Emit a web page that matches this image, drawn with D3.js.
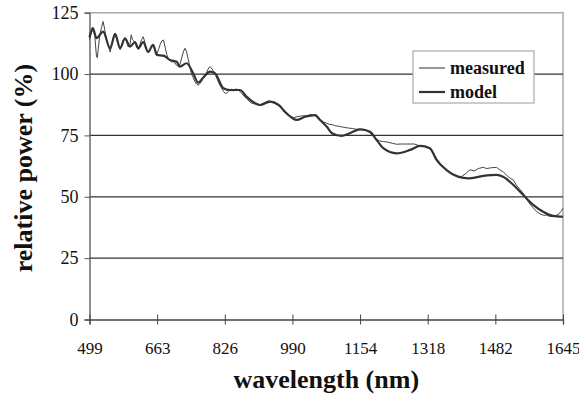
<!DOCTYPE html>
<html>
<head>
<meta charset="utf-8">
<script src="https://cdn.jsdelivr.net/npm/d3@7"></script>
<style>
  body { margin: 0; background: #fff; }
  text { font-family: "Liberation Serif", "Times New Roman", serif; fill: #111; }
</style>
</head>
<body>
<svg id="chart" width="579" height="394"></svg>
<script>
// tick labels as printed on the chart (axis runs 499..1645 in 7 steps)
var xTickLabels = ["499", "663", "826", "990", "1154", "1318", "1482", "1645"];
var yTicks = [0, 25, 50, 75, 100, 125];

// model curve (wavelength nm, relative power %)
var modelWl = [499, 507, 516, 532, 549, 561, 573, 585, 597, 609, 617, 629, 641, 653, 662, 678, 694, 710, 718, 734,
  750, 762, 774, 791, 803, 823, 839, 863, 879, 900, 912, 936, 956, 976, 1000, 1021, 1045, 1057, 1073, 1086,
  1109, 1129, 1154, 1178, 1194, 1210, 1242, 1275, 1299, 1323, 1339, 1363, 1391, 1416, 1452, 1484, 1500, 1525,
  1549, 1573, 1597, 1621, 1642, 1645];
var modelVal = [115, 118.7, 114.6, 117.3, 110.5, 116.4, 110.5, 114.6, 111.2, 113, 110.5, 113, 109, 111.9, 107.8, 107.5, 105.7, 105, 103, 104.4,
  100.3, 96.5, 98.5, 101, 100.3, 94.2, 93.5, 93.5, 90.8, 88.1, 87.4, 88.8, 87.5, 84, 81.3, 82.6, 83.3, 81.3, 78.6, 75.9,
  74.8, 75.9, 77.5, 76.5, 73.1, 69.8, 67.7, 69.1, 70.7, 69.8, 65, 60.9, 58.2, 57.5, 58.5, 58.9, 58.2, 54.8,
  50.7, 46.7, 43.9, 42.2, 41.9, 41.8];

// measured curve (noisier)
var measWl = [499, 504, 508, 512, 514, 516, 518, 520, 524, 528, 532, 536, 540, 545, 549, 553, 557, 561, 565, 569,
  573, 577, 581, 585, 589, 593, 597, 600, 603, 609, 613, 617, 621, 625, 629, 633, 637, 641, 645, 649,
  653, 657, 662, 666, 670, 674, 678, 682, 686, 690, 694, 698, 702, 706, 710, 714, 718, 722, 726, 730,
  734, 738, 742, 746, 750, 754, 758, 762, 766, 770, 774, 778, 782, 786, 790, 794, 798, 803, 808, 813,
  818, 823, 828, 833, 838, 843, 848, 853, 858, 863, 868, 873, 879, 885, 890, 895, 900, 906, 912, 918,
  924, 930, 936, 942, 948, 956, 964, 970, 976, 982, 988, 994, 1000, 1008, 1015, 1021, 1028, 1035, 1045, 1052,
  1057, 1065, 1073, 1080, 1086, 1092, 1100, 1109, 1118, 1126, 1136, 1145, 1154, 1163, 1170, 1178, 1186, 1194, 1200, 1210,
  1220, 1232, 1242, 1252, 1262, 1275, 1285, 1299, 1310, 1323, 1331, 1339, 1350, 1363, 1375, 1391, 1400, 1410, 1420, 1430,
  1440, 1452, 1460, 1470, 1484, 1492, 1500, 1510, 1518, 1525, 1533, 1541, 1549, 1557, 1565, 1573, 1581, 1590, 1597, 1605,
  1613, 1621, 1629, 1635, 1640, 1645];
var measVal = [114, 117, 118, 115.5, 111, 107, 106.7, 110, 116, 119, 121.4, 118, 114, 111, 109, 112, 115, 116.6, 114, 112,
  110, 112, 114, 114.6, 113, 111, 112, 116, 114, 113, 111, 110, 112, 114, 115.2, 113, 110, 109, 110, 111,
  112, 110, 108, 110, 112, 113.5, 113.9, 111, 108, 106, 105.5, 105, 105, 104.5, 103.5, 103, 104, 106.5, 109, 110.5,
  109, 106, 103, 100, 98.5, 97, 96, 95.5, 96, 97, 98.3, 99, 100.5, 102, 103, 102.5, 101.5, 100, 98, 96,
  94.5, 93, 92, 92.5, 93.5, 93.8, 93, 94, 93.5, 93, 92, 91, 90, 89, 88.3, 88, 87.8, 87.5, 87.5, 88,
  88.5, 89, 89, 88.5, 88, 87.5, 86, 84.5, 84, 83, 82.6, 82.2, 82.6, 82.8, 83, 83, 83.2, 83.5, 83, 82,
  81.5, 80.5, 80, 79.5, 79.4, 79, 78.8, 78.5, 78.2, 78, 77.8, 77.5, 77.5, 77.5, 77, 76, 74.5, 73.5, 72.8, 72.5,
  72.3, 71.8, 71.4, 71.5, 71.5, 71.5, 71.5, 70.7, 70.5, 69.5, 67.5, 65.5, 63, 61, 59.5, 58.2, 58.3, 59.5, 61, 60.5,
  61.5, 62, 61.5, 61.8, 62, 61, 60.2, 58.5, 57.5, 56.8, 54.5, 53, 51.4, 49, 47, 45.5, 44, 43, 42.5, 42.5,
  42, 42, 42.5, 43, 44, 45.3];

var seriesNames = ["measured", "model"];

var svg = d3.select("#chart");
// plot box (note: "top" would clash with window.top)
var pLeft = 89.5, pRight = 563, pTop = 12.7, pBottom = 319.5;

var x = d3.scaleLinear().domain([499, 1645]).range([pLeft, pRight]);
var y = d3.scaleLinear().domain([0, 125]).range([pBottom, pTop]);

// plot frame (light grey top/right)
svg.append("path")
  .attr("d", "M" + pLeft + "," + pTop + "H" + pRight + "V" + pBottom)
  .attr("fill", "none").attr("stroke", "#aaa").attr("stroke-width", 1.5);

// horizontal gridlines
svg.append("g").selectAll("line")
  .data(yTicks.filter(d => d > 0 && d < 125))
  .enter().append("line")
  .attr("x1", pLeft).attr("x2", pRight)
  .attr("y1", d => y(d)).attr("y2", d => y(d))
  .attr("stroke", "#333").attr("stroke-width", 1.3);

// y axis
var yAxis = svg.append("g")
  .attr("transform", "translate(" + pLeft + ",0)")
  .call(d3.axisLeft(y).tickValues(yTicks).tickSize(5).tickPadding(6));
yAxis.select(".domain").attr("stroke", "#555").attr("stroke-width", 1.3);
yAxis.selectAll(".tick line").attr("stroke", "#555");
yAxis.selectAll("text").style("font-size", "18px").attr("fill", "#111")
  .style("font-family", "'Liberation Serif', serif");

// x axis, ticks cross the line
var xTickVals = d3.range(8).map(i => 499 + i * (1645 - 499) / 7);
var xAxis = svg.append("g")
  .attr("transform", "translate(0," + pBottom + ")")
  .call(d3.axisBottom(x).tickValues(xTickVals).tickSize(5).tickPadding(17)
    .tickFormat((d, i) => xTickLabels[i]));
xAxis.select(".domain").attr("stroke", "#444").attr("stroke-width", 1.3);
xAxis.selectAll(".tick line").attr("y1", -5).attr("y2", 5).attr("stroke", "#444");
xAxis.selectAll("text").style("font-size", "17px").attr("fill", "#111")
  .style("font-family", "'Liberation Serif', serif");

var line = d3.line().x(d => x(d[0])).y(d => y(d[1]));
var measured = measWl.map((w, i) => [w, measVal[i]]);
var model = modelWl.map((w, i) => [w, modelVal[i]]);

svg.append("path").datum(measured)
  .attr("d", line).attr("fill", "none")
  .attr("stroke", "#444").attr("stroke-width", 1);

svg.append("path").datum(model)
  .attr("d", d3.line().curve(d3.curveMonotoneX).x(d => x(d[0])).y(d => y(d[1])))
  .attr("fill", "none").attr("stroke", "#333").attr("stroke-width", 2.2);

// axis titles
svg.append("text")
  .attr("x", (pLeft + pRight) / 2).attr("y", 388)
  .attr("text-anchor", "middle")
  .style("font-size", "26px").style("font-weight", "bold")
  .text("wavelength (nm)");

svg.append("text")
  .attr("transform", "translate(32," + ((pTop + pBottom) / 2 + 2) + ") rotate(-90)")
  .attr("text-anchor", "middle")
  .style("font-size", "26px").style("font-weight", "bold")
  .text("relative power (%)");

// legend
var lg = svg.append("g").attr("transform", "translate(413,51)");
lg.append("rect").attr("width", 121).attr("height", 52)
  .attr("fill", "#fff").attr("stroke", "#aaa").attr("stroke-width", 1.2);
seriesNames.forEach(function(name, i) {
  var yy = 17 + i * 24;
  lg.append("line").attr("x1", 6).attr("x2", 32).attr("y1", yy).attr("y2", yy)
    .attr("stroke", "#333").attr("stroke-width", i === 0 ? 1 : 2.2);
  lg.append("text").attr("x", 37).attr("y", yy + 6)
    .style("font-size", "18px").style("font-weight", "bold").text(name);
});
</script>
</body>
</html>
